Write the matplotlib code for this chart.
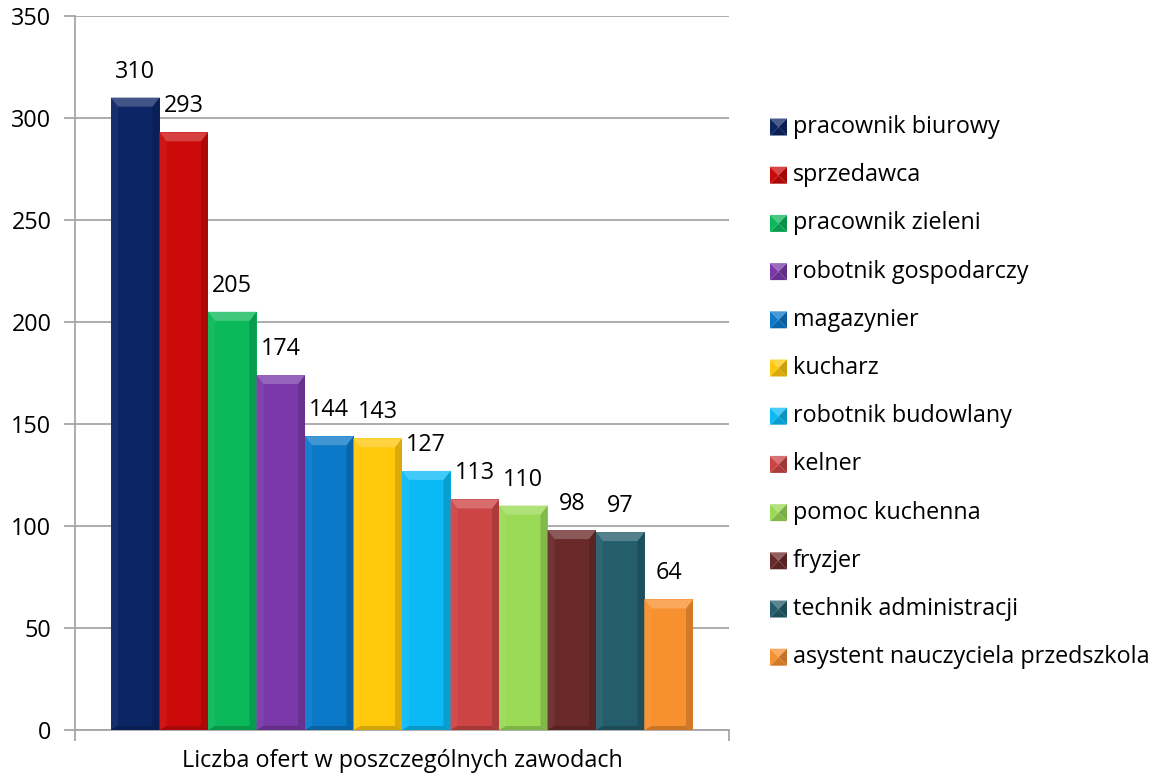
import matplotlib
matplotlib.use("Agg")
import matplotlib.pyplot as plt
from matplotlib.patches import Polygon
import matplotlib.colors as mcolors
import numpy as np

plt.rcParams['font.family'] = ['Open Sans', 'DejaVu Sans']

categories = ["pracownik biurowy", "sprzedawca", "pracownik zieleni", "robotnik gospodarczy",
              "magazynier", "kucharz", "robotnik budowlany", "kelner", "pomoc kuchenna",
              "fryzjer", "technik administracji", "asystent nauczyciela przedszkola"]
values = [310, 293, 205, 174, 144, 143, 127, 113, 110, 98, 97, 64]
colors = ["#0B2565", "#CC0A0A", "#0BB85A", "#7A38A8", "#0B78C8", "#FFC80A",
          "#0BBAF5", "#CC4444", "#9ADA55", "#6B2A2A", "#245D6C", "#F7902E"]
yticks = [0, 50, 100, 150, 200, 250, 300, 350]
xlabel = "Liczba ofert w poszczególnych zawodach"

W, H = 1152, 776
FS = 16.8
fig = plt.figure(figsize=(W / 100, H / 100), dpi=100)
L, R, T, B = 75, 729, 16, 730
ax = fig.add_axes([L / W, 1 - B / H, (R - L) / W, (B - T) / H])
ax.set_xlim(0, 1)
ax.set_ylim(0, 350)

grey = "#A6A6A6"
ax.set_yticks(yticks)
ax.yaxis.grid(True, color=grey, lw=1.3, zorder=0)
ax.set_axisbelow(True)
for s in ["top", "right"]:
    ax.spines[s].set_visible(False)
for s in ["left", "bottom"]:
    ax.spines[s].set_color(grey)
    ax.spines[s].set_linewidth(1.3)
ax.tick_params(axis='y', length=8, width=1.3, color=grey, labelsize=FS, pad=9)
ax.set_xticks([0, 1])
ax.set_xticklabels(["", ""])
ax.tick_params(axis='x', length=8, width=1.3, color=grey)
ax.set_xticks([0.5], minor=True)
ax.set_xticklabels([xlabel], minor=True, fontsize=FS)
ax.tick_params(axis='x', which='minor', length=0, pad=14)

n = len(values)
pxw = R - L
pxh = (B - T) / 350.0
left_off = 36 / pxw
bw = (693 - 111) / n / pxw
xs = left_off + bw * (np.arange(n) + 0.5)


def shade(c, f):
    rgb = np.array(mcolors.to_rgb(c))
    if f > 0:
        rgb = rgb + (1 - rgb) * f
    else:
        rgb = rgb * (1 + f)
    return tuple(np.clip(rgb, 0, 1))


ax.bar(xs, values, width=bw, color=colors, zorder=3, linewidth=0)
bx = 7 / pxw
by = 9 / pxh
byb = 4 / pxh
for x, v, c in zip(xs, values, colors):
    x0, x1 = x - bw / 2, x + bw / 2
    ax.add_patch(Polygon([(x0, 0), (x0, v), (x0 + bx, v - by), (x0 + bx, byb)],
                         closed=True, fc=shade(c, 0.05), lw=0, zorder=4))
    ax.add_patch(Polygon([(x1, 0), (x1, v), (x1 - bx, v - by), (x1 - bx, byb)],
                         closed=True, fc=shade(c, -0.15), lw=0, zorder=4))
    ax.add_patch(Polygon([(x0, 0), (x1, 0), (x1 - bx, byb), (x0 + bx, byb)],
                         closed=True, fc=shade(c, -0.18), lw=0, zorder=4))
    ax.add_patch(Polygon([(x0, v), (x1, v), (x1 - bx, v - by), (x0 + bx, v - by)],
                         closed=True, fc=shade(c, 0.22), lw=0, zorder=4))

for x, v in zip(xs, values):
    ax.annotate(str(v), (x, v), xytext=(0, 26), textcoords='offset pixels',
                ha='center', va='center', fontsize=FS, zorder=5)

# legend
size = 17
mx = 770
for i, (lab, c) in enumerate(zip(categories, colors)):
    yc = 127 + 48.2 * i
    x0, x1 = mx / W, (mx + size) / W
    y0, y1 = 1 - (yc + size / 2) / H, 1 - (yc - size / 2) / H
    xm, ym = (x0 + x1) / 2, (y0 + y1) / 2
    tris = [([(x0, y1), (x1, y1), (xm, ym)], 0.25),
            ([(x0, y0), (x1, y0), (xm, ym)], -0.15),
            ([(x0, y0), (x0, y1), (xm, ym)], 0.0),
            ([(x1, y0), (x1, y1), (xm, ym)], -0.2)]
    for pts, f in tris:
        fig.patches.append(Polygon(pts, closed=True, transform=fig.transFigure,
                                   fc=shade(c, f), lw=0))
    fig.text((mx + size + 6) / W, 1 - yc / H, lab, ha='left', va='center', fontsize=FS)

fig.savefig("out.png", dpi=100)
